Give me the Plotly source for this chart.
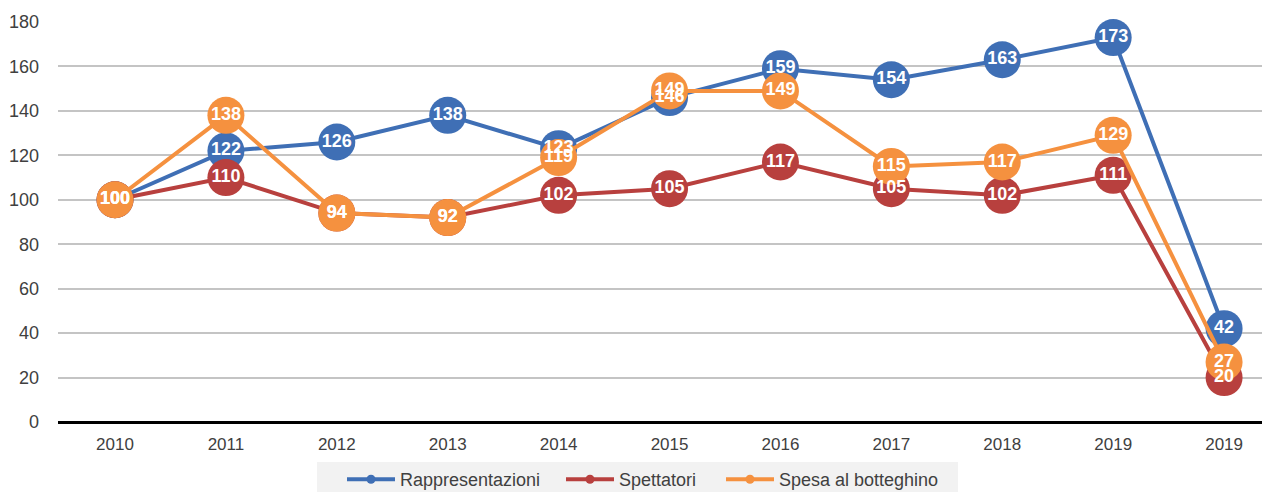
import plotly.graph_objects as go

years = ["2010", "2011", "2012", "2013", "2014", "2015", "2016", "2017", "2018", "2019", "2019"]
rappresentazioni = [100, 122, 126, 138, 123, 146, 159, 154, 163, 173, 42]
spettatori = [100, 110, 94, 92, 102, 105, 117, 105, 102, 111, 20]
spesa = [100, 138, 94, 92, 119, 149, 149, 115, 117, 129, 27]
y_ticks = [0, 20, 40, 60, 80, 100, 120, 140, 160, 180]

series = [
    ("Rappresentazioni", rappresentazioni, "#3F6FB5", "legend", 334),
    ("Spettatori", spettatori, "#B8403E", "legend2", 553),
    ("Spesa al botteghino", spesa, "#F5913F", "legend3", 713),
]

xpos = list(range(len(years)))
fig = go.Figure()
font = "Liberation Sans, Arial, sans-serif"

W, H = 1262, 484
L, R, T, B = 50, 5, 14, 70
pw, ph = W - L - R, H - T - B

def px_x(v):
    return (v - L) / pw

def px_y(v):
    return (H - B - v) / ph

for name, vals, col, lg, lx in series:
    fig.add_trace(go.Scatter(
        x=xpos, y=vals, mode="lines+markers", name=name, showlegend=False,
        line=dict(color=col, width=4),
        marker=dict(size=37, color=col),
        hoverinfo="skip", cliponaxis=False,
    ))
for name, vals, col, lg, lx in series:
    fig.add_trace(go.Scatter(
        x=xpos, y=vals, mode="text", text=[str(v) for v in vals],
        textposition="middle center", showlegend=False,
        textfont=dict(color="white", size=18, family=font, weight="bold"),
        hoverinfo="skip", cliponaxis=False,
    ))
legend_layout = {}
for name, vals, col, lg, lx in series:
    fig.add_trace(go.Scatter(
        x=[None], y=[None], mode="lines+markers", name=name, legend=lg,
        line=dict(color=col, width=4), marker=dict(size=9, color=col),
    ))
    legend_layout[lg] = dict(orientation="h", x=px_x(lx), xanchor="left",
                             y=px_y(453), yanchor="top",
                             bgcolor="rgba(0,0,0,0)", font=dict(size=18, color="#404040"),
                             itemwidth=48)

fig.add_shape(type="rect", xref="paper", yref="paper",
              x0=px_x(309), x1=px_x(950), y0=px_y(490), y1=px_y(454),
              fillcolor="#F2F2F2", line=dict(width=0), layer="below")

fig.update_layout(
    width=W, height=H,
    margin=dict(l=L, r=R, t=T, b=B, autoexpand=False),
    paper_bgcolor="white", plot_bgcolor="white",
    font=dict(family=font, size=17, color="#404040"),
    xaxis=dict(range=[-0.514, 10.369], tickmode="array", tickvals=xpos, ticktext=years,
               showgrid=False, zeroline=False, showline=False, ticks="",
               automargin=False, ticklabelstandoff=10,
               tickfont=dict(size=17, color="#404040")),
    yaxis=dict(range=[0, 180], tickmode="array", tickvals=y_ticks,
               showgrid=True, gridcolor="#C4C4C4", gridwidth=1.5,
               zeroline=True, zerolinecolor="#000000", zerolinewidth=3,
               automargin=False,
               ticks="", ticklabelstandoff=18, tickfont=dict(size=18, color="#404040")),
    **legend_layout,
)

fig.write_html("out.html")
